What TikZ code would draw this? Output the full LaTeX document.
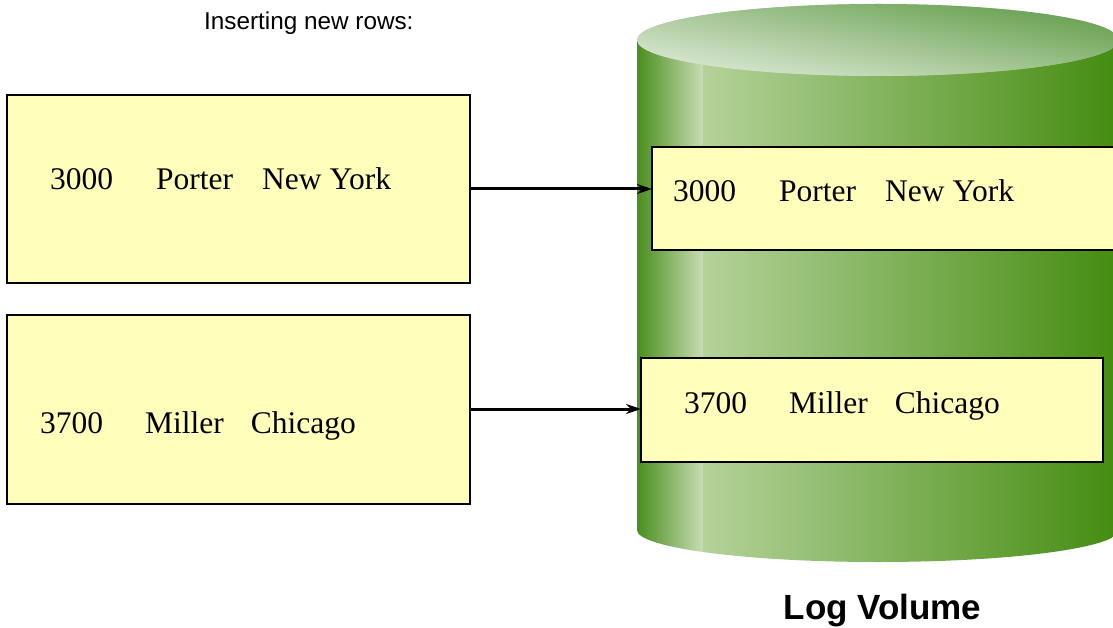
\documentclass[tikz,border=0pt]{standalone}
\usepackage{fontspec}
\setmainfont{Liberation Serif}
\newfontfamily\arialf{Liberation Sans}
\usetikzlibrary{arrows.meta}
\definecolor{boxfill}{HTML}{FFFFBB}
\definecolor{gdark}{HTML}{448C10}
\definecolor{gdarkl}{HTML}{4A8E1E}
\definecolor{glight}{HTML}{C8DCB4}
\definecolor{gmainl}{HTML}{B4D29A}
\definecolor{gmainm}{HTML}{90B874}
\definecolor{toplight}{HTML}{E8F0E2}
\definecolor{topmid}{HTML}{AECCA0}
\definecolor{topdark}{HTML}{5A9840}
\tikzset{
  rowbox/.style={draw=black, line width=2pt, fill=boxfill},
  rowtext/.style={anchor=base west, inner sep=0pt, font=\fontsize{31.5}{36}\selectfont},
  conn/.style={line width=3pt, -{Stealth[length=15pt,width=10pt]}},
}
\begin{document}
\begin{tikzpicture}[x=1pt,y=-1pt]
\useasboundingbox (0,0) rectangle (1113,628);
\begin{scope}
\clip (0,0) rectangle (1113,628);
% cylinder side
\begin{scope}
\clip (637,40) -- (637,530) arc[start angle=180,end angle=0,x radius=241,y radius=32] -- (1119,40) -- cycle;
\shade[left color=gdarkl, right color=glight] (637,0) rectangle (703,600);
\shade[left color=gmainl, middle color=gmainm, right color=gdark] (703,0) rectangle (1119,600);
\end{scope}
% cylinder top
\begin{scope}
\clip (878,40) ellipse [x radius=241, y radius=36];
\fill[topmid] (878,40) ellipse [x radius=241, y radius=36];
\begin{scope}[transform canvas={rotate around={-10:(878,40)}}]
\shade[top color=topdark, middle color=topmid, bottom color=toplight] (578,-37) rectangle (1178,117);
\end{scope}
\end{scope}
\end{scope}
% title
\node[anchor=base west, inner sep=0pt, font=\arialf\fontsize{24.3}{28}\selectfont] (title) at (204,30) {Inserting new rows:};
\node[anchor=base, inner sep=0pt, font=\arialf\bfseries\fontsize{35}{40}\selectfont] (logvol) at (882.5,619) {Log Volume};
% boxes
\draw[rowbox] (7,95) rectangle (470,283);
\coordinate (b1e) at (470,189);
\draw[rowbox] (7,315) rectangle (470,504);
\coordinate (b2e) at (470,409);
\draw[rowbox] (652,147) rectangle (1125,250);
\coordinate (b3w) at (652,189);
\draw[rowbox] (641,358) rectangle (1103,462);
\coordinate (b4w) at (641,409);
% texts
\node[rowtext] (t1) at (50,190) {3000\hspace{43pt}Porter\hspace{29pt}New York};
\node[rowtext] (t2) at (40,433) {3700\hspace{42pt}Miller\hspace{27pt}Chicago};
\node[rowtext] (t3) at (673,202) {3000\hspace{43pt}Porter\hspace{29pt}New York};
\node[rowtext] (t4) at (684,413) {3700\hspace{42pt}Miller\hspace{27pt}Chicago};
% connectors
\draw[conn] (b1e) -- (b3w);
\draw[conn] (b2e) -- (b4w);
\end{tikzpicture}
\end{document}
